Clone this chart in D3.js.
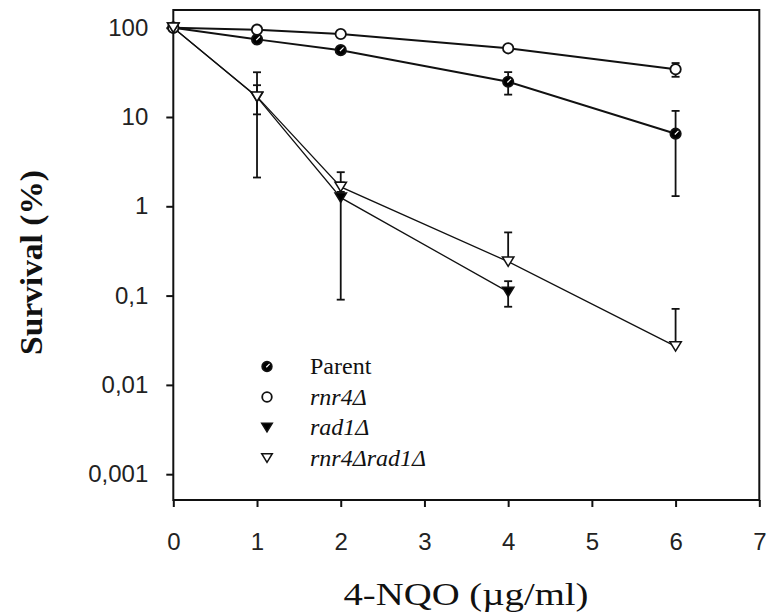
<!DOCTYPE html>
<html>
<head>
<meta charset="utf-8">
<script src="https://cdn.jsdelivr.net/npm/d3@7"></script>
<style>
  html, body { margin: 0; padding: 0; background: #fff; }
  svg { display: block; }
</style>
</head>
<body>
<svg id="chart" width="767" height="615"></svg>
<script>
// Survival of yeast strains after 4-NQO exposure (log scale)
const xTicks = [0, 1, 2, 3, 4, 5, 6, 7];
const yTicks = [100, 10, 1, 0.1, 0.01, 0.001];
const yTickLabels = ["100", "10", "1", "0,1", "0,01", "0,001"];

const seriesNames = ["Parent", "rnr4Δ", "rad1Δ", "rnr4Δrad1Δ"];

const parentDose = [0, 1, 2, 4, 6];
const parentSurvival = [100, 74, 56, 24.8, 6.5];
const parentErr = [0, 4, 3, 7, 5.2];

const rnr4Dose = [0, 1, 2, 4, 6];
const rnr4Survival = [100, 95, 85, 58.8, 34.2];
const rnr4Err = [0, 3, 3, 3, 6];

const rad1Dose = [0, 1, 2, 4];
const rad1Survival = [100, 16.7, 1.25, 0.11];
const rad1Err = [0, 6, 1.16, 0.035];

const doubleDose = [0, 1, 2, 4, 6];
const doubleSurvival = [100, 16.9, 1.65, 0.24, 0.027];
const doubleErr = [0, 14.8, 0.2, 0.27, 0.044];

const svg = d3.select("#chart");
const plotLeft = 173.3, plotRight = 759.3, plotTop = 10, plotBottom = 500;

const x = d3.scaleLinear().domain([0, 7]).range([plotLeft, plotRight]);
const y = d3.scaleLog().domain([0.000514, 157.8]).range([plotBottom, plotTop]);

const series = [
  { name: seriesNames[0], dose: parentDose, val: parentSurvival, err: parentErr, marker: "circle", fill: "#000", lw: 2 },
  { name: seriesNames[1], dose: rnr4Dose, val: rnr4Survival, err: rnr4Err, marker: "circle", fill: "#fff", lw: 2 },
  { name: seriesNames[2], dose: rad1Dose, val: rad1Survival, err: rad1Err, marker: "tri", fill: "#000", lw: 1.3 },
  { name: seriesNames[3], dose: doubleDose, val: doubleSurvival, err: doubleErr, marker: "tri", fill: "#fff", lw: 1.3 }
];

// Plot frame
svg.append("rect")
  .attr("x", plotLeft).attr("y", plotTop)
  .attr("width", plotRight - plotLeft).attr("height", plotBottom - plotTop)
  .attr("fill", "none").attr("stroke", "#111").attr("stroke-width", 2);

// Axes
const tickFont = "'Liberation Sans', Arial, sans-serif";
const yAxis = svg.append("g")
  .attr("transform", `translate(${plotLeft},0)`)
  .call(d3.axisLeft(y).tickValues(yTicks)
    .tickFormat((d, i) => yTickLabels[i]).tickSize(7).tickPadding(18).tickSizeOuter(0));
const xAxis = svg.append("g")
  .attr("transform", `translate(0,${plotBottom})`)
  .call(d3.axisBottom(x).tickValues(xTicks).tickFormat(d3.format("d"))
    .tickSize(7).tickPadding(26).tickSizeOuter(0));
[yAxis, xAxis].forEach(g => {
  g.select(".domain").remove();
  g.selectAll(".tick line").attr("stroke", "#111").attr("stroke-width", 2);
  g.selectAll(".tick text")
    .attr("fill", "#222")
    .style("font-family", tickFont)
    .style("font-size", "24px");
});

// Axis titles
svg.append("text")
  .attr("x", 466).attr("y", 605)
  .attr("text-anchor", "middle")
  .attr("textLength", 245).attr("lengthAdjust", "spacingAndGlyphs")
  .style("font-family", "'Liberation Serif', 'Times New Roman', serif")
  .style("font-size", "31px")
  .attr("fill", "#111")
  .text("4-NQO (µg/ml)");

svg.append("text")
  .attr("transform", "translate(42,262.5) rotate(-90)")
  .attr("text-anchor", "middle")
  .attr("textLength", 185).attr("lengthAdjust", "spacingAndGlyphs")
  .style("font-family", "'Liberation Serif', 'Times New Roman', serif")
  .style("font-size", "32px")
  .style("font-weight", "bold")
  .attr("fill", "#111")
  .text("Survival (%)");

// Lines
const line = d3.line().x(d => x(d[0])).y(d => y(d[1]));
series.forEach(s => {
  const pts = s.dose.map((d, i) => [d, s.val[i]]);
  svg.append("path")
    .datum(pts)
    .attr("d", line)
    .attr("fill", "none")
    .attr("stroke", "#111")
    .attr("stroke-width", s.lw);
});

// Error bars (lower arm omitted when it would fall below zero)
const cap = 4;
series.forEach(s => {
  s.dose.forEach((d, i) => {
    const e = s.err[i];
    if (!e) return;
    const cx = x(d);
    const hi = s.val[i] + e;
    const lo = s.val[i] - e;
    const g = svg.append("g").attr("stroke", "#111").attr("stroke-width", 1.8);
    const yHi = y(hi);
    const yLo = lo > 0 ? y(lo) : y(s.val[i]);
    g.append("line").attr("x1", cx).attr("x2", cx).attr("y1", yHi).attr("y2", yLo);
    g.append("line").attr("x1", cx - cap).attr("x2", cx + cap).attr("y1", yHi).attr("y2", yHi);
    if (lo > 0) {
      g.append("line").attr("x1", cx - cap).attr("x2", cx + cap).attr("y1", yLo).attr("y2", yLo);
    }
  });
});

// Marker drawing
function drawMarker(g, s, cx, cy, r) {
  if (s.marker === "circle") {
    g.append("circle")
      .attr("cx", cx).attr("cy", cy).attr("r", r)
      .attr("fill", s.fill).attr("stroke", "#111").attr("stroke-width", 1.8);
    if (s.fill === "#000") {
      g.append("line")
        .attr("x1", cx + r * 0.55).attr("y1", cy - r * 0.55)
        .attr("x2", cx - r * 0.15).attr("y2", cy + r * 0.15)
        .attr("stroke", "#fff").attr("stroke-width", 1.2);
    }
  } else {
    const w = r * 1.1, h = r * 1.8;
    const p = d3.path();
    p.moveTo(cx - w, cy - h / 2);
    p.lineTo(cx + w, cy - h / 2);
    p.lineTo(cx, cy + h / 2);
    p.closePath();
    g.append("path").attr("d", p.toString())
      .attr("fill", s.fill).attr("stroke", "#111").attr("stroke-width", 1.5);
  }
}

series.forEach(s => {
  const g = svg.append("g");
  s.dose.forEach((d, i) => drawMarker(g, s, x(d), y(s.val[i]), 5.2));
});

// Legend
const legendX = 267, legendY0 = 366.5, legendStep = 30.5;
series.forEach((s, i) => {
  const cy = legendY0 + i * legendStep;
  drawMarker(svg.append("g"), s, legendX, cy, 4.8);
  svg.append("text")
    .attr("x", 310).attr("y", cy + 7.5)
    .style("font-family", "'Liberation Serif', 'Times New Roman', serif")
    .style("font-size", "24px")
    .style("font-style", i === 0 ? "normal" : "italic")
    .attr("fill", "#111")
    .text(s.name);
});
</script>
</body>
</html>
